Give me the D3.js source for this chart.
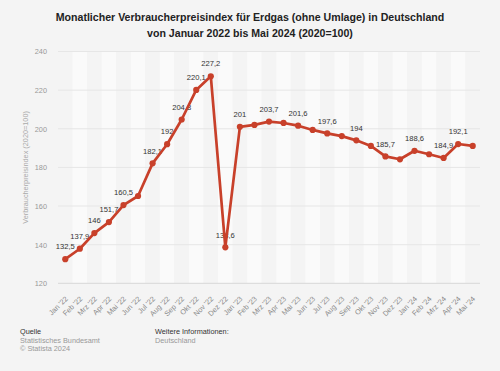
<!DOCTYPE html>
<html>
<head>
<meta charset="utf-8">
<script src="https://cdn.jsdelivr.net/npm/d3@7"></script>
<style>
  body { margin: 0; background: #f4f4f4; }
  svg { display: block; font-family: "Liberation Sans", Arial, sans-serif; }
</style>
</head>
<body>
<div id="chart"></div>
<script>
// Monate Jan '22 bis Mai '24
var months = ["Jan '22", "Feb '22", "Mrz '22", "Apr '22", "Mai '22", "Jun '22", "Jul '22", "Aug '22", "Sep '22", "Okt '22", "Nov '22", "Dez '22",
  "Jan '23", "Feb '23", "Mrz '23", "Apr '23", "Mai '23", "Jun '23", "Jul '23", "Aug '23", "Sep '23", "Okt '23", "Nov '23", "Dez '23",
  "Jan '24", "Feb '24", "Mrz '24", "Apr '24", "Mai '24"];
var values = [132.5, 137.9, 146, 151.7, 160.5, 165.2, 182.1, 192, 204.8, 220.1, 227.2, 138.6,
  201, 202, 203.7, 203, 201.6, 199.4, 197.6, 196.2, 194, 191.1, 185.7, 184.2,
  188.6, 186.8, 184.9, 192.1, 191.1];
// welche Punkte eine Beschriftung haben
var labeled = [1, 1, 1, 1, 1, 0, 1, 1, 1, 1, 1, 1,
  1, 0, 1, 0, 1, 0, 1, 0, 1, 0, 1, 0,
  1, 0, 1, 1, 0];
var yTicks = [120, 140, 160, 180, 200, 220, 240];

var width = 500, height = 371;
var margin = { left: 58, right: 20, top: 51.5, bottom: 87.7 };

var points = months.map(function (m, i) {
  return { month: m, value: values[i], label: labeled[i] };
});

var svg = d3.select("#chart").append("svg")
  .attr("width", width)
  .attr("height", height);

svg.append("rect").attr("width", width).attr("height", height).attr("fill", "#f4f4f4");

// Titel
svg.append("text")
  .attr("x", width / 2).attr("y", 21)
  .attr("text-anchor", "middle")
  .attr("font-size", 10.6).attr("font-weight", "bold").attr("fill", "#222")
  .text("Monatlicher Verbraucherpreisindex für Erdgas (ohne Umlage) in Deutschland");
svg.append("text")
  .attr("x", width / 2).attr("y", 37)
  .attr("text-anchor", "middle")
  .attr("font-size", 10.6).attr("font-weight", "bold").attr("fill", "#222")
  .text("von Januar 2022 bis Mai 2024 (2020=100)");

var x = d3.scaleBand()
  .domain(months)
  .range([margin.left, width - margin.right]);

var y = d3.scaleLinear()
  .domain([120, 240])
  .range([height - margin.bottom, margin.top]);

// Streifen
svg.append("g").selectAll("rect")
  .data(months)
  .enter().append("rect")
  .attr("x", function (d) { return x(d); })
  .attr("y", margin.top)
  .attr("width", x.bandwidth())
  .attr("height", y(120) - margin.top)
  .attr("fill", function (d, i) { return i % 2 ? "#fafafa" : "#f4f4f4"; });

// Gitter
svg.append("g").selectAll("line")
  .data(yTicks)
  .enter().append("line")
  .attr("x1", margin.left).attr("x2", width - margin.right)
  .attr("y1", function (d) { return y(d); })
  .attr("y2", function (d) { return y(d); })
  .attr("stroke", function (d) { return d === 120 ? "#d8d8d8" : "#e6e6e6"; })
  .attr("stroke-width", 1);

var yAxis = svg.append("g")
  .attr("transform", "translate(" + (margin.left - 11) + ",0)")
  .call(d3.axisLeft(y).tickValues(yTicks).tickSize(0).tickPadding(0));
yAxis.select(".domain").remove();
yAxis.selectAll("text").attr("font-size", 7.3).attr("fill", "#999").attr("font-family", null);

var xAxis = svg.append("g")
  .attr("transform", "translate(0," + y(120) + ")")
  .call(d3.axisBottom(x).tickSize(0).tickPadding(0));
xAxis.select(".domain").remove();
xAxis.selectAll("text")
  .attr("font-size", 7.3).attr("fill", "#8a8a8a").attr("font-family", null)
  .attr("text-anchor", "end")
  .attr("x", 0).attr("y", 0).attr("dy", 0)
  .attr("transform", "translate(3,16) rotate(-45)");

// Achsentitel
svg.append("text")
  .attr("transform", "translate(28," + ((y(120) + y(240)) / 2) + ") rotate(-90)")
  .attr("text-anchor", "middle")
  .attr("font-size", 7.3).attr("fill", "#aaa")
  .text("Verbraucherpreisindex (2020=100)");

var cx = function (d) { return x(d.month) + x.bandwidth() / 2; };

// Beschriftungen (unter der Linie)
svg.append("g").selectAll("text")
  .data(points.filter(function (d) { return d.label; }))
  .enter().append("text")
  .attr("x", cx)
  .attr("y", function (d) { return y(d.value) - 9.8; })
  .attr("text-anchor", "middle")
  .attr("font-size", 7.6).attr("fill", "#333")
  .text(function (d) { return String(d.value).replace(".", ","); });

var line = d3.line()
  .x(cx)
  .y(function (d) { return y(d.value); });

svg.append("path")
  .datum(points)
  .attr("d", line)
  .attr("fill", "none")
  .attr("stroke", "#c8402a")
  .attr("stroke-width", 2.7)
  .attr("stroke-linejoin", "round");

svg.append("g").selectAll("circle")
  .data(points)
  .enter().append("circle")
  .attr("cx", cx)
  .attr("cy", function (d) { return y(d.value); })
  .attr("r", 3.1)
  .attr("fill", "#c8402a");

// Fußzeile
var foot = svg.append("g").attr("font-size", 7.3);
foot.append("text").attr("x", 20).attr("y", 334).attr("fill", "#333").text("Quelle");
foot.append("text").attr("x", 20).attr("y", 342.5).attr("fill", "#999").text("Statistisches Bundesamt");
foot.append("text").attr("x", 20).attr("y", 351).attr("fill", "#999").text("© Statista 2024");
foot.append("text").attr("x", 155).attr("y", 334).attr("fill", "#333").text("Weitere Informationen:");
foot.append("text").attr("x", 155).attr("y", 342.5).attr("fill", "#999").text("Deutschland");
</script>
</body>
</html>
